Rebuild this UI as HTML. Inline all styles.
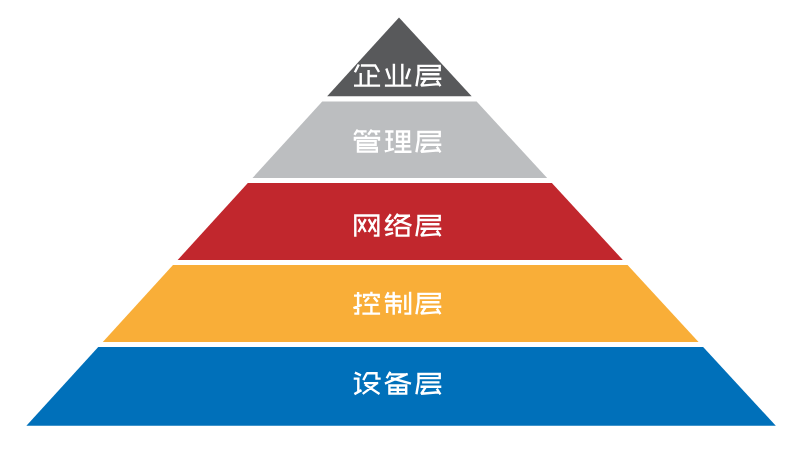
<!DOCTYPE html>
<html lang="zh-CN">
<head>
<meta charset="utf-8">
<title>五层金字塔</title>
<style>
html,body{margin:0;padding:0;background:#fff;}
body{width:800px;height:450px;overflow:hidden;position:relative;font-family:"Liberation Sans",sans-serif;}
svg{position:absolute;left:0;top:0;display:block;}
.lbl{position:absolute;left:354px;width:88px;height:24px;margin:0;font-size:24px;line-height:24px;opacity:0;overflow:hidden;white-space:nowrap;}
</style>
</head>
<body>
<svg width="800" height="450" viewBox="0 0 800 450">
<rect width="800" height="450" fill="#ffffff"/>
<polygon fill="#58595b" points="399,17.5 471.65,96.2 327.16,96.2"/>
<polygon fill="#bcbec0" points="322.23,101.6 476.63,101.6 547.15,178 252.5,178"/>
<polygon fill="#c1272d" points="247.84,183.1 551.86,183.1 622.85,260 177.65,260"/>
<polygon fill="#f9ae38" points="172.99,265.1 627.55,265.1 698.54,342 102.8,342"/>
<polygon fill="#0070ba" points="98.24,347 703.15,347 775.8,425.7 26.4,425.7"/>
<g fill="none" stroke="#ffffff" stroke-width="2.4" stroke-linecap="butt" stroke-linejoin="miter" stroke-miterlimit="2">
<g><title>企业层</title>
<path d="M358.8 64.5 L354.9 72.3 M360.9 65.5 L375.2 65.5 L379 72 M368.6 70 L368.6 85.6 M368.6 76 L377.1 76 M360.7 73 L360.7 85.6 M354 85.6 L380.1 85.6"/>
<path d="M393.9 63.7 L393.9 85.6 M402.3 63.7 L402.3 85.6 M386.3 68.5 L390 79 M409.8 68.5 L406.2 79 M384.9 85.6 L411.3 85.6"/>
<path d="M416.4 86.2 L418.5 74.2 L418.5 65.9 L439.7 65.9 L439.7 70 L418.5 70 M422.1 74.3 L439.5 74.3 M420.5 78.7 L441.3 78.7 M425.7 79 L421.2 85.6 L438.6 84.1 M436.8 80.5 L440.4 86.2"/>
</g>
<g><title>管理层</title>
<path d="M357.8 129.6 L354.4 134.8 M357.2 131.4 L366.6 131.4 M361.4 132 L363 135 M371.8 129.6 L368.2 134.8 M371.2 131.4 L380.2 131.4 M375.2 132 L376.8 135 M366 135.2 L366 138 M354.9 140.8 L354.9 138 L379 138 L379 140.8 M358 140 L358 152.75 M358 141.1 L375.6 141.1 L375.6 144.7 L358 144.7 M358 148 L376.8 148 L376.8 151.6 L358 151.6"/>
<path d="M385.2 131.5 L393.5 131.5 M389.3 131.5 L389.3 150.4 M385.5 139.5 L392.9 139.5 M384.8 151.4 L393.8 148.9 M397.1 141.8 L397.1 131.5 L409 131.5 L409 141.8Z M397.1 136.6 L409 136.6 M403 131.5 L403 151.8 M395.8 146.3 L410.3 146.3 M394.5 151.8 L411.5 151.8"/>
<path d="M416.4 152.3 L418.5 140.3 L418.5 132 L439.7 132 L439.7 136.1 L418.5 136.1 M422.1 140.4 L439.5 140.4 M420.5 144.8 L441.3 144.8 M425.7 145.1 L421.2 151.7 L438.6 150.2 M436.8 146.6 L440.4 152.3"/>
</g>
<g><title>网络层</title>
<path d="M355.3 236.8 L355.3 215.5 L378.3 215.5 L378.3 235.6 L373.8 235.6 M358.5 219.1 L365.7 232 M365.7 219.1 L358.5 232 M368.7 219.1 L375.9 232 M375.9 219.1 L368.7 232"/>
<path d="M390.8 214.2 L385.8 221.2 L392.2 221.2 M393.3 219.4 L385.2 229.5 L392.8 229.5 M385.4 235.2 L393.2 232.8 M398 213.8 L394.4 219 M397.2 215.8 L410 215.8 M409.7 215.3 L393.6 225.8 M396.8 220.2 L411.4 225.5 M396.8 228 L408.4 228 L408.4 235.6 L396.8 235.6Z"/>
<path d="M416.4 236.2 L418.5 224.2 L418.5 215.9 L439.7 215.9 L439.7 220 L418.5 220 M422.1 224.3 L439.5 224.3 M420.5 228.7 L441.3 228.7 M425.7 229 L421.2 235.6 L438.6 234.1 M436.8 230.5 L440.4 236.2"/>
</g>
<g><title>控制层</title>
<path d="M354 295.6 L361.8 295.6 M358.1 292 L358.1 313.6 L354.3 313.6 M353.4 308.2 L361.8 304.9 M371.4 291.7 L371.4 294.1 M364.1 298 L364.1 295 L378.7 295 L378.7 298 M369 297.4 L364.8 301.9 M373.8 297.4 L377.7 301.9 M364.5 304.9 L378.6 304.9 M371.4 304.9 L371.4 313.6 M362.4 313.6 L380.1 313.6"/>
<path d="M388.5 292.3 L385.5 298.3 M387 296.5 L400.5 296.5 M384.9 301.3 L402 301.3 M393.7 291.7 L393.7 314.8 M387.1 313 L387.1 305.5 L399.9 305.5 L399.9 312 L398 312 M405.3 294.7 L405.3 310 M410.1 291.7 L410.1 313.6 L404.4 313.6"/>
<path d="M416.4 314.2 L418.5 302.2 L418.5 293.9 L439.7 293.9 L439.7 298 L418.5 298 M422.1 302.3 L439.5 302.3 M420.5 306.7 L441.3 306.7 M425.7 307 L421.2 313.6 L438.6 312.1 M436.8 308.5 L440.4 314.2"/>
</g>
<g><title>设备层</title>
<path d="M354.9 372.6 L360.9 375.3 M353.7 378.6 L358.3 378.6 L358.3 392.2 M354.4 394.1 L361.5 390.1 M366.9 373.2 L363.3 380.1 M366.3 373.2 L376.5 373.2 L376.5 378.6 L380.7 378.6 M363.9 383.1 L378.2 383.1 M377.9 382.6 L362.7 393.9 M365.1 384.6 L379.5 393.9"/>
<path d="M390.3 371.7 L386.7 378.3 M389.7 374.4 L407.8 374.4 M407.5 373.9 L384.9 383.7 M390.9 378 L411 383.7 M389.4 385.5 L406.2 385.5 L406.2 393.6 L389.4 393.6Z M397.8 385.5 L397.8 393.6 M389.4 389.7 L406.2 389.7"/>
<path d="M416.4 394.3 L418.5 382.3 L418.5 374 L439.7 374 L439.7 378.1 L418.5 378.1 M422.1 382.4 L439.5 382.4 M420.5 386.8 L441.3 386.8 M425.7 387.1 L421.2 393.7 L438.6 392.2 M436.8 388.6 L440.4 394.3"/>
</g>
</g>
</svg>
<p class="lbl" style="top:64px">企业层</p>
<p class="lbl" style="top:130px">管理层</p>
<p class="lbl" style="top:214px">网络层</p>
<p class="lbl" style="top:292px">控制层</p>
<p class="lbl" style="top:371px">设备层</p>
</body>
</html>
